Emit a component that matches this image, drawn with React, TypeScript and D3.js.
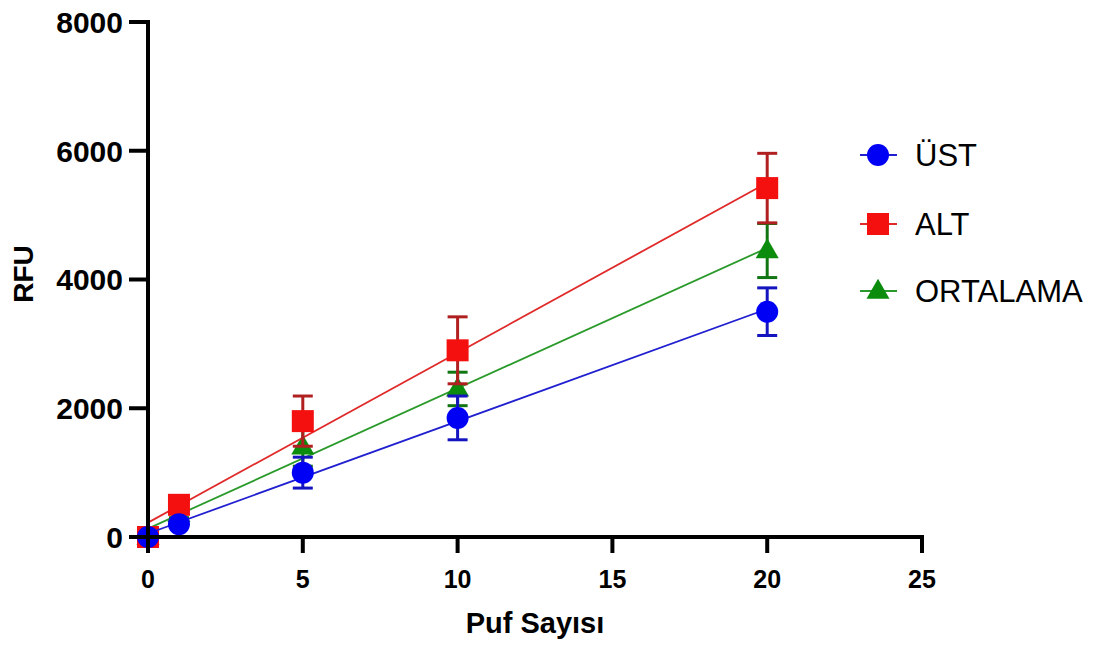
import React from "react";
import * as d3 from "d3";

const puffs = [0, 1, 5, 10, 20];
const ustMean = [0, 200, 1000, 1850, 3500];
const ustErr = [0, 50, 240, 340, 370];
const altMean = [0, 500, 1800, 2900, 5420];
const altErr = [0, 60, 390, 520, 540];
const ortMean = [0, 350, 1400, 2300, 4450];
const ortErr = [0, 50, 300, 260, 420];
const xTicks = [0, 5, 10, 15, 20, 25];
const yTicks = [0, 2000, 4000, 6000, 8000];

type Series = {
  name: string;
  mean: number[];
  err: number[];
  color: string;
  errColor: string;
  lineColor: string;
  shape: "circle" | "square" | "triangle";
};

const series: Series[] = [
  { name: "ORTALAMA", mean: ortMean, err: ortErr, color: "#0c8c0c", errColor: "#117511", lineColor: "#2a9a2a", shape: "triangle" },
  { name: "ALT", mean: altMean, err: altErr, color: "#f51010", errColor: "#b02020", lineColor: "#e02a2a", shape: "square" },
  { name: "ÜST", mean: ustMean, err: ustErr, color: "#0000f5", errColor: "#1515c0", lineColor: "#2020d0", shape: "circle" },
];
const legendOrder = ["ÜST", "ALT", "ORTALAMA"];

const x = d3.scaleLinear().domain([0, 25]).range([148, 922]);
const y = d3.scaleLinear().domain([0, 8000]).range([537, 22]);

function fit(xs: number[], ys: number[]) {
  const mx = d3.mean(xs)!;
  const my = d3.mean(ys)!;
  let sxy = 0, sxx = 0;
  xs.forEach((xv, i) => {
    sxy += (xv - mx) * (ys[i] - my);
    sxx += (xv - mx) * (xv - mx);
  });
  const slope = sxy / sxx;
  return { slope, intercept: my - slope * mx };
}

function Marker({ shape, cx, cy, color }: { shape: string; cx: number; cy: number; color: string }) {
  if (shape === "circle") return <circle cx={cx} cy={cy} r={11} fill={color} />;
  if (shape === "square") return <rect x={cx - 11} y={cy - 11} width={22} height={22} fill={color} />;
  const sym = d3.symbol().type(d3.symbolTriangle).size(230)();
  return <path d={sym as string} transform={`translate(${cx},${cy + 1})`} fill={color} />;
}

export default function App() {
  const font = "'Liberation Sans', Arial, Helvetica, sans-serif";
  const line = d3.line<[number, number]>().x((d) => x(d[0])).y((d) => y(d[1]));
  return (
    <svg width={1095} height={645} style={{ position: "absolute", left: 0, top: 0, background: "#fff" }} fontFamily={font}>
      {series.map((s) => {
        const f = fit(puffs, s.mean);
        const x0 = 0, x1 = d3.max(puffs)!;
        return (
          <g key={s.name}>
            <path d={line([[x0, f.intercept + f.slope * x0], [x1, f.intercept + f.slope * x1]])!} stroke={s.lineColor} strokeWidth={1.8} fill="none" />
            {puffs.map((p, i) => (
              <g key={i} stroke={s.errColor} strokeWidth={3}>
                <line x1={x(p)} x2={x(p)} y1={y(s.mean[i] - s.err[i])} y2={y(s.mean[i] + s.err[i])} />
                <line x1={x(p) - 10} x2={x(p) + 10} y1={y(s.mean[i] + s.err[i])} y2={y(s.mean[i] + s.err[i])} />
                <line x1={x(p) - 10} x2={x(p) + 10} y1={y(s.mean[i] - s.err[i])} y2={y(s.mean[i] - s.err[i])} />
              </g>
            ))}
            {puffs.map((p, i) => (
              <Marker key={"m" + i} shape={s.shape} cx={x(p)} cy={y(s.mean[i])} color={s.color} />
            ))}
          </g>
        );
      })}

      <line x1={148} x2={148} y1={y(8000) - 2} y2={y(0) + 2} stroke="#000" strokeWidth={4} />
      {yTicks.map((t) => (
        <g key={t}>
          <line x1={129} x2={148} y1={y(t)} y2={y(t)} stroke="#000" strokeWidth={4} />
          <text x={123} y={y(t)} dy="0.36em" textAnchor="end" fontSize={30} fontWeight="bold" fill="#000">{t}</text>
        </g>
      ))}
      <line x1={146} x2={x(25) + 2} y1={537} y2={537} stroke="#000" strokeWidth={4} />
      {xTicks.map((t) => (
        <g key={t}>
          <line x1={x(t)} x2={x(t)} y1={537} y2={553} stroke="#000" strokeWidth={4} />
          <text x={x(t)} y={588} textAnchor="middle" fontSize={25} fontWeight="bold" fill="#000">{t}</text>
        </g>
      ))}
      <text transform="translate(33,274) rotate(-90)" textAnchor="middle" fontSize={28} fontWeight="bold" fill="#000">RFU</text>
      <text x={535} y={633} textAnchor="middle" fontSize={29} fontWeight="bold" fill="#000">Puf Sayısı</text>

      {legendOrder.map((n, i) => {
        const s = series.find((q) => q.name === n)!;
        const ly = [155, 224, 291][i];
        return (
          <g key={n}>
            <line x1={860} x2={897} y1={ly} y2={ly} stroke={s.lineColor} strokeWidth={2} />
            <Marker shape={s.shape} cx={878} cy={ly} color={s.color} />
            <text x={915} y={ly} dy="0.36em" fontSize={31} fill="#000">{n}</text>
          </g>
        );
      })}
    </svg>
  );
}
